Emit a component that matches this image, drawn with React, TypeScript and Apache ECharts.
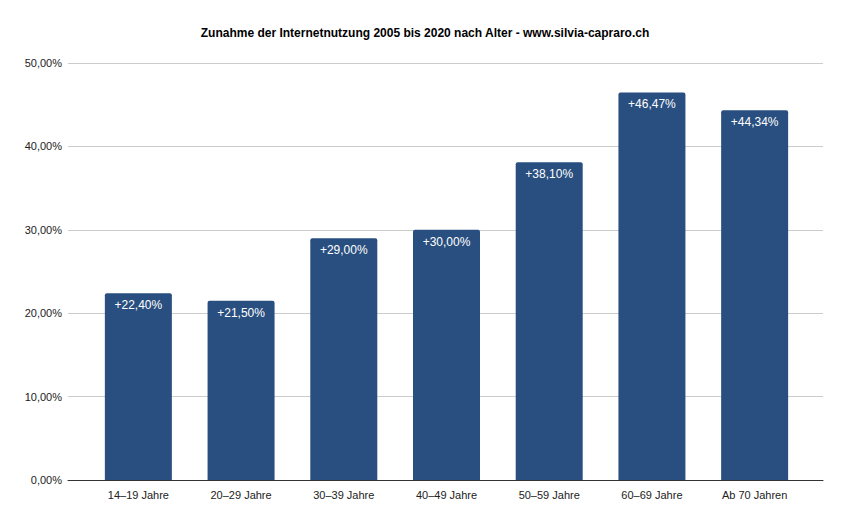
import React, { useEffect, useRef } from 'react';
import * as echarts from 'echarts';

const categories: string[] = [
  '14–19 Jahre',
  '20–29 Jahre',
  '30–39 Jahre',
  '40–49 Jahre',
  '50–59 Jahre',
  '60–69 Jahre',
  'Ab 70 Jahren',
];

const increase: number[] = [22.4, 21.5, 29.0, 30.0, 38.1, 46.47, 44.34];

const fmt = (v: number) => v.toFixed(2).replace('.', ',');

const App: React.FC = () => {
  const chartRef = useRef<HTMLDivElement>(null);

  useEffect(() => {
    if (!chartRef.current) return;
    const chart = echarts.init(chartRef.current, undefined, { renderer: 'svg' });

    const option: echarts.EChartsOption = {
      animation: false,
      textStyle: { fontFamily: '"Liberation Sans", Arial, sans-serif' },
      title: {
        text: 'Zunahme der Internetnutzung 2005 bis 2020 nach Alter - www.silvia-capraro.ch',
        left: 'center',
        top: 14,
        textStyle: { fontSize: 12, fontWeight: 'bold', color: '#000' },
      },
      // grid 0: full-width gridlines and axis line; grid 1: inset bars
      grid: [
        { left: 60, right: 19, top: 55, bottom: 37 },
        { left: 79, right: 36, top: 55, bottom: 37 },
      ],
      xAxis: [
        {
          type: 'category',
          gridIndex: 0,
          data: categories,
          axisTick: { show: false },
          axisLabel: { show: false },
          axisLine: { lineStyle: { color: '#333', width: 1 } },
        },
        {
          type: 'category',
          gridIndex: 1,
          data: categories,
          axisTick: { show: false },
          axisLine: { show: false },
          axisLabel: { color: '#222', fontSize: 11, margin: 9 },
        },
      ],
      yAxis: [
        {
          type: 'value',
          gridIndex: 0,
          min: 0,
          max: 50,
          interval: 10,
          axisLabel: { color: '#222', fontSize: 11, formatter: (v: number) => fmt(v) + '%', margin: 6 },
          splitLine: { lineStyle: { color: '#cccccc' } },
        },
        {
          type: 'value',
          gridIndex: 1,
          min: 0,
          max: 50,
          interval: 10,
          show: false,
          splitLine: { show: false },
        },
      ],
      series: [
        {
          type: 'bar',
          xAxisIndex: 1,
          yAxisIndex: 1,
          data: increase,
          barWidth: 67,
          itemStyle: { color: '#294f80', borderRadius: [2, 2, 0, 0] },
          label: {
            show: true,
            position: 'insideTop',
            distance: 6,
            color: '#fff',
            fontSize: 12,
            formatter: (p: any) => '+' + fmt(p.value) + '%',
          },
        },
      ],
    };

    chart.setOption(option);
    return () => chart.dispose();
  }, []);

  return <div ref={chartRef} style={{ width: '834px', height: '509px' }} />;
};

export default App;
